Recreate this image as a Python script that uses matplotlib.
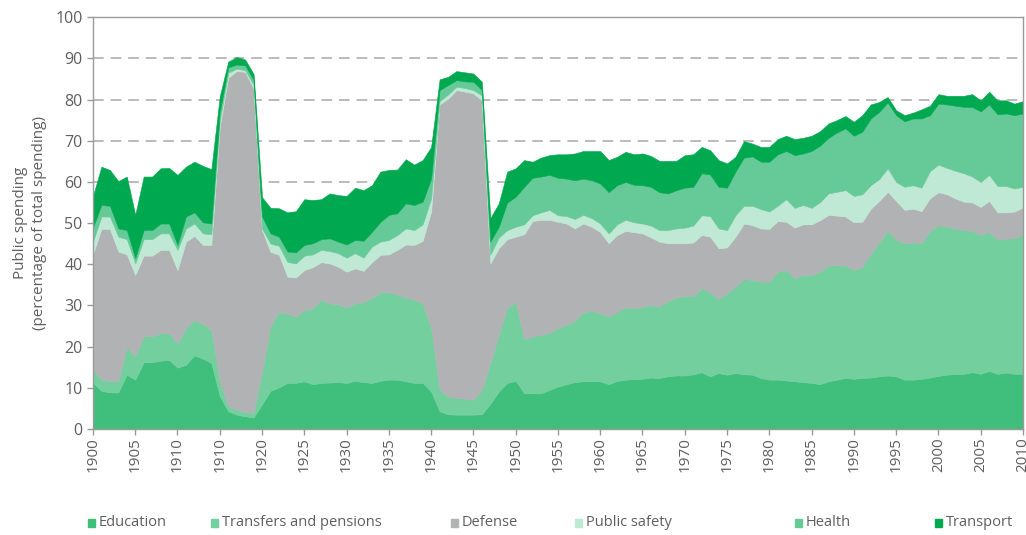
import matplotlib
matplotlib.use("Agg")
import matplotlib.pyplot as plt
from matplotlib.patches import Rectangle

# share of total public spending, by year (1900-2010)
years = list(range(1900, 2011))

education = [
    11.2, 9.3, 8.9, 8.9, 13.2, 12.0, 16.2, 16.2, 16.6, 16.8,
    14.9, 15.6, 17.9, 17.1, 16.0, 8.0, 4.3, 3.5, 3.1, 2.8,
    6.0, 9.3, 10.1, 11.2, 11.2, 11.6, 10.9, 11.2, 11.3, 11.4,
    11.2, 11.7, 11.4, 11.2, 11.7, 12.0, 12.0, 11.6, 11.2, 11.2,
    9.1, 4.3, 3.6, 3.5, 3.5, 3.5, 3.6, 6.1, 9.1, 11.2,
    11.7, 8.7, 8.7, 8.7, 9.5, 10.3, 10.9, 11.4, 11.6, 11.6,
    11.6, 10.9, 11.7, 12.0, 12.1, 12.2, 12.5, 12.4, 12.8, 13.0,
    13.0, 13.3, 13.8, 12.8, 13.6, 13.2, 13.6, 13.3, 13.2, 12.4,
    12.0, 12.0, 11.8, 11.6, 11.4, 11.2, 10.9, 11.6, 12.0, 12.4,
    12.2, 12.4, 12.5, 12.8, 13.0, 12.8, 12.0, 12.0, 12.2, 12.5,
    12.9, 13.2, 13.4, 13.4, 13.8, 13.4, 14.1, 13.4, 13.7, 13.4,
    13.4,
]
transfers = [
    3.2, 2.7, 2.7, 2.7, 6.8, 5.6, 6.3, 6.3, 6.7, 6.5,
    5.9, 8.9, 8.6, 8.4, 8.1, 3.5, 1.2, 1.2, 1.0, 1.1,
    8.0, 15.7, 18.3, 16.8, 16.1, 17.3, 18.4, 20.2, 19.2, 18.9,
    18.3, 18.8, 19.4, 20.6, 21.5, 21.2, 20.7, 20.3, 20.2, 19.3,
    15.4, 5.2, 4.3, 4.0, 3.9, 3.6, 5.9, 9.9, 13.8, 18.3,
    19.1, 13.2, 13.8, 14.2, 13.8, 14.2, 14.4, 14.9, 16.8, 17.1,
    16.5, 16.4, 16.8, 17.5, 17.2, 17.5, 17.6, 17.3, 18.3, 18.9,
    19.3, 18.9, 20.4, 20.4, 18.0, 19.7, 21.0, 23.1, 23.0, 23.4,
    23.8, 26.2, 26.8, 25.0, 26.0, 26.1, 27.3, 28.1, 27.8, 27.3,
    26.4, 27.0, 29.9, 32.5, 35.1, 33.2, 33.1, 33.3, 32.9, 35.6,
    36.6, 35.9, 35.3, 34.9, 34.3, 33.7, 33.8, 32.6, 32.5, 32.9,
    33.9,
]
defense = [
    28.1, 36.6, 37.0, 31.5, 22.4, 19.8, 19.6, 19.6, 20.2, 20.2,
    17.8, 21.0, 20.4, 19.2, 20.6, 62.0, 79.8, 82.2, 82.6, 78.8,
    34.3, 18.0, 13.9, 9.0, 9.5, 9.7, 10.0, 9.1, 9.7, 9.1,
    8.7, 8.5, 7.6, 8.7, 9.1, 9.2, 10.8, 12.9, 13.3, 15.2,
    28.3, 69.3, 72.3, 74.8, 74.5, 74.4, 70.3, 24.2, 21.0, 16.6,
    15.9, 25.4, 28.0, 27.9, 27.5, 25.8, 24.6, 22.4, 21.5, 20.4,
    19.7, 17.8, 18.6, 18.6, 18.5, 17.8, 16.4, 15.8, 14.0, 13.2,
    12.8, 13.1, 12.9, 13.5, 12.3, 11.2, 12.1, 13.5, 13.3, 12.9,
    12.8, 12.3, 11.7, 12.3, 12.3, 12.4, 12.5, 12.3, 12.0, 11.9,
    11.6, 10.9, 11.1, 10.1, 9.5, 9.4, 8.1, 8.2, 7.8, 7.9,
    8.0, 7.9, 7.3, 6.9, 6.9, 6.8, 7.5, 6.6, 6.4, 6.5,
    6.5,
]
public_safety = [
    3.0, 3.0, 3.0, 3.6, 3.7, 2.8, 4.0, 4.0, 4.0, 4.0,
    4.9, 3.2, 3.0, 2.8, 2.6, 1.5, 1.2, 0.6, 0.4, 0.8,
    0.4, 2.0, 2.2, 3.6, 3.4, 3.5, 3.1, 3.0, 3.0, 3.3,
    3.4, 3.7, 3.2, 3.8, 3.2, 3.5, 3.6, 3.9, 3.6, 4.0,
    3.2, 0.8, 1.0, 0.8, 0.9, 0.8, 1.2, 2.1, 2.6, 2.2,
    2.4, 2.4, 1.4, 1.8, 2.4, 1.6, 1.8, 2.3, 2.1, 2.1,
    2.1, 2.4, 2.6, 2.7, 2.4, 2.4, 2.9, 2.8, 3.2, 3.6,
    3.8, 4.1, 4.8, 5.0, 4.8, 4.2, 5.2, 4.3, 4.7, 4.7,
    4.2, 3.7, 5.5, 4.8, 4.7, 4.0, 4.4, 5.2, 5.8, 6.4,
    6.4, 6.7, 5.7, 5.3, 5.7, 4.6, 5.6, 5.7, 5.7, 6.6,
    6.7, 6.4, 6.7, 6.9, 6.3, 6.1, 6.3, 6.4, 6.4, 5.6,
    5.0,
]
health = [
    3.5, 2.8, 2.6, 2.0, 2.2, 1.3, 2.2, 2.2, 2.4, 2.4,
    1.2, 2.9, 2.7, 2.7, 2.6, 2.0, 1.3, 1.0, 1.2, 1.2,
    2.9, 2.5, 2.2, 2.5, 2.7, 2.6, 2.7, 2.6, 3.1, 2.8,
    3.2, 3.2, 4.1, 3.6, 4.8, 6.1, 5.3, 6.1, 6.1, 5.5,
    4.8, 2.7, 2.3, 1.6, 1.6, 2.0, 1.3, 3.2, 2.6, 6.7,
    7.3, 9.1, 9.1, 8.7, 8.5, 9.1, 9.1, 9.4, 8.8, 9.2,
    9.7, 10.0, 9.5, 9.2, 9.1, 9.3, 9.4, 9.2, 8.9, 9.3,
    9.7, 9.4, 10.2, 10.1, 10.1, 10.3, 10.6, 11.7, 12.0, 11.5,
    12.1, 12.5, 11.7, 12.8, 12.5, 13.8, 13.7, 13.5, 14.4, 15.0,
    14.6, 15.2, 16.2, 16.3, 16.0, 16.2, 15.9, 16.2, 16.8, 13.6,
    14.8, 15.4, 15.8, 16.1, 16.9, 17.1, 17.1, 17.4, 17.6, 17.8,
    17.8,
]
transport = [
    7.6, 9.3, 8.7, 11.5, 13.0, 10.5, 13.0, 13.0, 13.4, 13.5,
    17.0, 12.1, 12.3, 13.7, 13.2, 3.8, 1.4, 1.8, 1.4, 1.5,
    4.7, 6.2, 6.9, 9.5, 10.0, 11.1, 10.5, 9.7, 10.9, 11.3,
    11.8, 12.7, 12.3, 11.3, 12.2, 10.9, 10.6, 10.7, 9.8, 10.1,
    7.7, 2.6, 2.0, 2.2, 2.2, 2.0, 2.0, 5.7, 5.7, 7.5,
    6.9, 6.5, 3.9, 4.6, 4.8, 5.7, 5.9, 6.5, 6.7, 7.1,
    7.9, 7.8, 6.9, 7.3, 7.4, 7.7, 7.5, 7.6, 7.9, 7.1,
    7.9, 7.9, 6.4, 5.9, 6.5, 5.9, 3.6, 4.0, 3.1, 3.6,
    3.6, 3.7, 3.7, 3.9, 3.8, 3.7, 3.5, 3.5, 3.0, 3.0,
    3.4, 4.0, 3.4, 2.4, 1.3, 1.2, 1.5, 1.4, 2.2, 2.3,
    2.3, 2.1, 2.4, 2.7, 3.1, 2.7, 3.1, 3.4, 3.2, 2.8,
    3.0,
]

labels = ["Education", "Transfers and pensions", "Defense",
          "Public safety", "Health", "Transport"]
colors = ["#40be7c", "#73cf9e", "#b1b2b4", "#bfe9d4", "#66ca98", "#00a84f"]

tick_years = list(range(1900, 2011, 5))
tick_labels = ["1900", "1905", "1910", "1910", "1920", "1925", "1930", "1935",
               "1940", "1945", "1950", "1955", "1960", "1965", "1970", "1975",
               "1980", "1985", "1990", "1995", "2000", "2005", "2010"]

GREY = "#9a9a9a"
TEXT = "#5f5f5f"

plt.rcParams["font.family"] = ["Open Sans", "DejaVu Sans"]

fig = plt.figure(figsize=(10.26, 5.35), dpi=100)
ax = fig.add_axes([0.0906, 0.198, 0.9064, 0.770])

ax.stackplot(years, education, transfers, defense, public_safety, health,
             transport, colors=colors, linewidth=0.4, edgecolor="face")

ax.set_xlim(1900, 2010)
ax.set_ylim(0, 100)

# dashed horizontal grid behind the areas
ax.set_yticks(range(0, 101, 10))
ax.yaxis.grid(True, color="#a8a8a8", linestyle=(0, (7, 4.5)), linewidth=1.1)
ax.xaxis.grid(False)
ax.set_axisbelow(True)

ax.set_xticks(tick_years)
ax.set_xticklabels(tick_labels, rotation=90)

for side in ["left", "top", "right", "bottom"]:
    ax.spines[side].set_color(GREY)
    ax.spines[side].set_linewidth(1.0)

ax.tick_params(axis="both", colors=GREY, labelcolor=TEXT, labelsize=11.5,
               length=4, width=1.0)
ax.tick_params(axis="x", pad=2, labelsize=11)

ax.set_ylabel("Public spending\n(percentage of total spending)",
              color=TEXT, fontsize=11, linespacing=1.35, labelpad=6)

# legend row along the bottom
legend_x = [88, 211, 451, 575, 795, 935]
for x, lab, col in zip(legend_x, labels, colors):
    fig.patches.append(Rectangle((x / 1026, 1 - 527 / 535), 7 / 1026, 8 / 535,
                                 transform=fig.transFigure, color=col))
    fig.text((x + 11) / 1026, 1 - 523 / 535, lab, color=TEXT, fontsize=10.5,
             va="center", ha="left")

fig.savefig("out.png", dpi=100)
